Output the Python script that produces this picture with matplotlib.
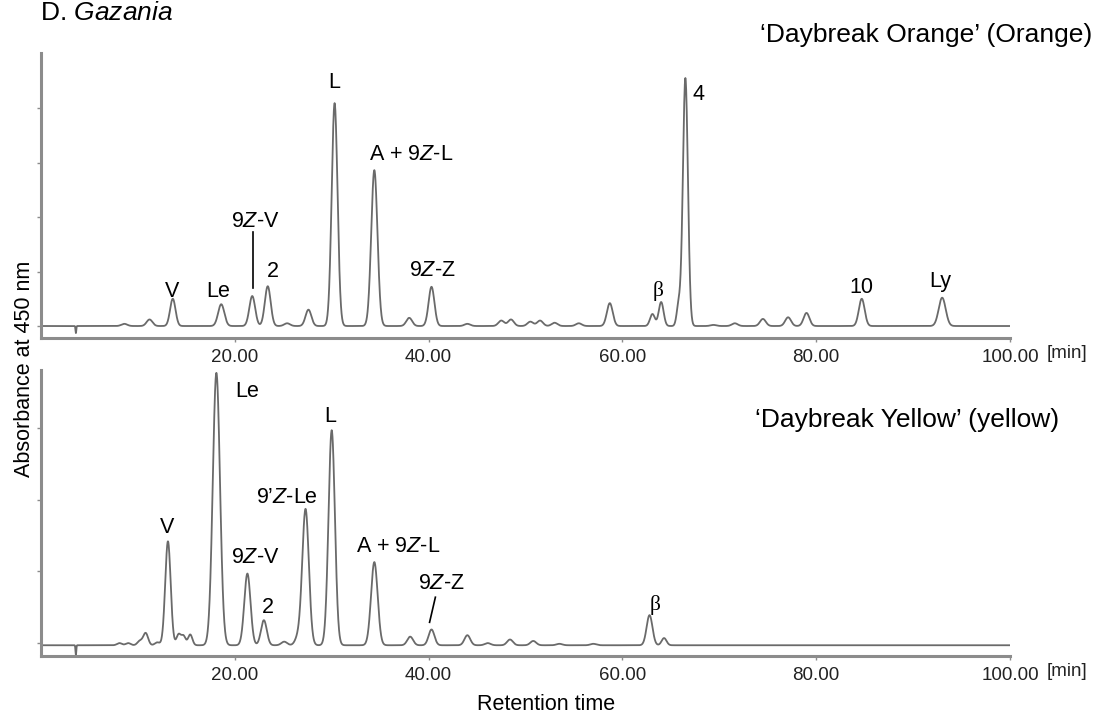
import matplotlib
matplotlib.use("Agg")
import matplotlib.pyplot as plt
import numpy as np

plt.rcParams['font.family'] = ['Liberation Sans', 'DejaVu Sans']
plt.rcParams['mathtext.fontset'] = 'custom'
plt.rcParams['mathtext.rm'] = 'Liberation Sans'
plt.rcParams['mathtext.it'] = 'Liberation Sans:italic'

# ---- peak tables (retention time [min], height [tick units], sigma [min]) ----
# 'Daybreak Orange'
orange_rt = [3.6, 8.6, 11.2, 13.6, 18.6, 21.8, 23.4, 25.4, 27.6, 30.3, 34.4, 38.0, 40.3,
             44.0, 47.5, 48.5, 50.5, 51.5, 53.0, 55.5, 58.7, 63.1, 64.0, 65.8, 66.5,
             69.4, 71.6, 74.5, 77.1, 79.0, 84.7, 93.0]
orange_h = [-0.13, 0.04, 0.12, 0.50, 0.40, 0.55, 0.73, 0.05, 0.30, 4.09, 2.86, 0.15, 0.72,
            0.04, 0.10, 0.12, 0.08, 0.10, 0.06, 0.05, 0.42, 0.22, 0.44, 0.38, 4.55,
            0.02, 0.05, 0.13, 0.16, 0.24, 0.50, 0.52]
orange_w = [0.04, 0.3, 0.3, 0.28, 0.32, 0.3, 0.3, 0.3, 0.3, 0.30, 0.32, 0.3, 0.3,
            0.3, 0.3, 0.3, 0.3, 0.3, 0.3, 0.3, 0.3, 0.25, 0.25, 0.2, 0.26,
            0.3, 0.3, 0.3, 0.3, 0.3, 0.3, 0.36]

# 'Daybreak Yellow'
yellow_rt = [3.6, 8.1, 9.0, 10.2, 10.8, 12.0, 13.1, 14.2, 14.7, 15.4, 18.1, 21.3, 23.0,
             25.1, 26.5, 27.3, 30.0, 34.4, 38.1, 40.3, 44.0, 46.1, 48.4, 50.8, 53.5,
             57.0, 62.8, 64.3]
yellow_h = [-0.14, 0.03, 0.03, 0.06, 0.17, 0.04, 1.45, 0.15, 0.13, 0.15, 3.80, 1.00, 0.35,
            0.05, 0.10, 1.90, 3.00, 1.16, 0.12, 0.22, 0.14, 0.03, 0.08, 0.06, 0.02,
            0.02, 0.42, 0.10]
yellow_w = [0.04, 0.25, 0.25, 0.25, 0.25, 0.25, 0.28, 0.22, 0.22, 0.22, 0.37, 0.32, 0.3,
            0.3, 0.3, 0.34, 0.33, 0.34, 0.3, 0.3, 0.3, 0.3, 0.3, 0.3, 0.3,
            0.3, 0.3, 0.25]
yellow_base = -0.03

# peak labels: (text, x, y)
orange_labels = [('V', 13.5, 0.53), ('Le', 18.3, 0.53), ('9$\\it{Z}$-V', 22.1, 1.82),
                 ('2', 23.9, 0.90), ('L', 30.3, 4.37), ('A + 9$\\it{Z}$-L', 38.2, 3.05),
                 ('9$\\it{Z}$-Z', 40.35, 0.92), ('10', 84.7, 0.61), ('Ly', 92.8, 0.72)]
yellow_labels = [('V', 13.0, 1.54), ('9$\\it{Z}$-V', 22.1, 1.12), ('2', 23.4, 0.42),
                 ('9\u2019$\\it{Z}$-Le', 25.4, 1.96), ('L', 29.9, 3.09),
                 ('A + 9$\\it{Z}$-L', 36.9, 1.27), ('9$\\it{Z}$-Z', 41.3, 0.75)]

xticks = [20, 40, 60, 80, 100]
xticklabels = ['20.00', '40.00', '60.00', '80.00', '100.00']

LINE = '#6a6a6a'
SPINE = '#8c8c8c'
FS = 15.5


def chrom(t, rt, h, w, base=0.0):
    y = np.zeros_like(t) + base
    for r, a, s in zip(rt, h, w):
        y += a * np.exp(-0.5 * ((t - r) / s) ** 2)
    return y


def style(ax, ylim, nt):
    ax.set_xlim(0, 100)
    ax.set_ylim(*ylim)
    for s in ['top', 'right']:
        ax.spines[s].set_visible(False)
    for s in ['left', 'bottom']:
        ax.spines[s].set_color(SPINE)
        ax.spines[s].set_linewidth(2.2)
    ax.set_yticks(range(nt))
    ax.set_yticklabels([])
    ax.set_xticks(xticks)
    ax.set_xticklabels(xticklabels, fontsize=13.5, color='#222222')
    ax.tick_params(axis='both', length=3, width=1, color=SPINE, pad=5)


t = np.arange(0.3, 100.0, 0.02)

fig = plt.figure(figsize=(11.04, 7.16), dpi=100)
W, H = 1104.0, 716.0

ax1 = fig.add_axes([41 / W, 1 - 338 / H, 969 / W, 285 / H])
ax2 = fig.add_axes([41 / W, 1 - 656 / H, 969 / W, 286 / H])

ax1.plot(t, chrom(t, orange_rt, orange_h, orange_w), color=LINE, lw=1.3)
style(ax1, (-0.22, 5.01), 5)
ax2.plot(t, chrom(t, yellow_rt, yellow_h, yellow_w, yellow_base), color=LINE, lw=1.3)
style(ax2, (-0.18, 3.81), 4)

for txt, x, y in orange_labels:
    ax1.text(x, y, txt, fontsize=FS, ha='center', va='baseline')
for txt, x, y in yellow_labels:
    ax2.text(x, y, txt, fontsize=FS, ha='center', va='baseline')
ax1.text(67.2, 4.15, '4', fontsize=FS, ha='left', va='baseline')
ax2.text(21.3, 3.44, 'Le', fontsize=FS, ha='center', va='baseline')
ax1.text(63.7, 0.55, '\u03b2', fontsize=FS, ha='center', va='baseline', family='Liberation Serif')
ax2.text(63.4, 0.46, '\u03b2', fontsize=FS, ha='center', va='baseline', family='Liberation Serif')

# leader lines
ax1.plot([21.9, 21.9], [1.72, 0.70], color='black', lw=1.2)
ax2.plot([40.7, 40.1], [0.64, 0.29], color='black', lw=1.2)

fig.text(1047 / W, 1 - 358 / H, '[min]', fontsize=13.5, color='#222222', va='baseline')
fig.text(1047 / W, 1 - 676 / H, '[min]', fontsize=13.5, color='#222222', va='baseline')

fig.text(40 / W, 1 - 20 / H, 'D. $\\it{Gazania}$', fontsize=19, va='baseline')
fig.text(1092 / W, 1 - 42 / H, '\u2018Daybreak Orange\u2019 (Orange)', fontsize=19,
         ha='right', va='baseline')
fig.text(755 / W, 1 - 427 / H, '\u2018Daybreak Yellow\u2019 (yellow)', fontsize=19,
         ha='left', va='baseline')

fig.text(25 / W, 1 - 369 / H, 'Absorbance at 450 nm', fontsize=FS, rotation=90,
         ha='center', va='center')
fig.text(546 / W, 1 - 705 / H, 'Retention time', fontsize=FS, ha='center', va='center')

fig.savefig('out.png', dpi=100)
